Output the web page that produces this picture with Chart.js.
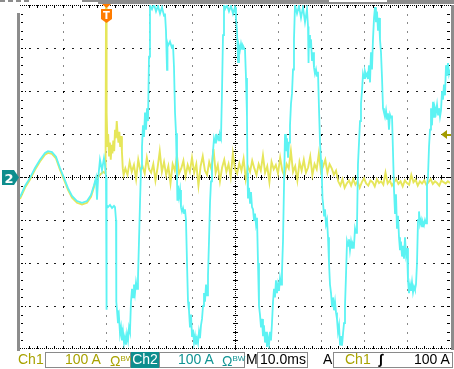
<!DOCTYPE html>
<html>
<head>
<meta charset="utf-8">
<script src="https://cdn.jsdelivr.net/npm/chart.js"></script>
<style>
  html, body { margin: 0; padding: 0; background: #fff; }
  #wrap { position: relative; width: 454px; height: 369px; overflow: hidden; }
  #scope { position: absolute; left: 0; top: 0; }
  #status { position: absolute; left: 0; top: 351px; width: 454px; height: 18px; }
  #status span { position: absolute; top: 0; font: 14px "Liberation Sans", Arial, sans-serif; line-height: 16px; white-space: nowrap; color: #000; }
  #status .box { top: 1px; height: 14px; border: 1px solid #8a8a8a; }
  #status .c1 { color: #a8a200; }
  #status .c2 { color: #0f9494; }
  #status .tag { top: 1px; height: 16px; background: #0e8e8e; color: #fff; text-align: center; line-height: 15px; }
  #status small { font-size: 8px; vertical-align: 5px; }
</style>
</head>
<body>
<div id="wrap">
  <canvas id="scope" width="454" height="369"></canvas>
  <div id="status">
    <span class="c1" style="left:18px">Ch1</span>
    <span class="box" style="left:45px;width:84px"></span>
    <span class="c1" style="left:65px">100 A</span>
    <span class="c1" style="left:110px">Ω<small>BW</small></span>
    <span class="tag" style="left:131px;width:28px">Ch2</span>
    <span class="box" style="left:159px;width:84px"></span>
    <span class="c2" style="left:178px">100 A</span>
    <span class="c2" style="left:222px">Ω<small>BW</small></span>
    <span style="left:246px">M</span>
    <span class="box" style="left:257px;width:49px"></span>
    <span style="left:260px">10.0ms</span>
    <span style="left:323px">A</span>
    <span class="box" style="left:333px;width:118px"></span>
    <span class="c1" style="left:345px">Ch1</span>
    <span style="left:379px;font-style:italic;font-weight:bold">∫</span>
    <span style="left:414px">100 A</span>
  </div>
</div>
<script>
// ==============================
// Settings
// ==============================
const timeRange = [0, 100];      // ms, 10 ms/div
const ampRange = [-400, 400];    // A, 100 A/div
const triggerTime = 20;          // ms
const triggerLevel = 100;        // A
const ch1Noise0 = 24.5;          // ms, first noise sample
const ch1Step = 0.5;             // ms between noise samples

// Ch2 (cyan) readings: [ms, A]
const ch2Samples = [
  [0,-47],[1.16,-21],[2.33,-2],[3.49,21],[4.65,40],[5.81,56],[6.51,60],[7.44,58],[8.37,47],[9.3,21],
  [10.23,-2],[11.16,-26],[12.09,-44],[13.26,-56],[14.42,-60],[15.58,-56],[16.51,-42],[17.21,-19],[17.67,-2],[17.91,-53],
  [18.14,-7],[18.6,40],[19.07,16],[19.53,44],[19.77,28],[20.0,0],[20.05,-309],[20.12,-60],[20.23,-65],[20.47,-70],
  [20.93,-65],[21.4,-72],[21.86,-67],[22.09,-70],[22.33,-100],[22.4,-290],[22.56,-310],[22.79,-340],[23.02,-325],[23.26,-365],
  [23.49,-350],[23.72,-380],[23.95,-360],[24.19,-386],[24.42,-372],[24.65,-390],[24.88,-365],[25.12,-380],[25.35,-350],[25.58,-360],
  [25.81,-290],[26.05,-260],[26.28,-280],[26.51,-250],[26.74,-270],[26.98,-245],[27.21,-260],[27.44,-235],[27.67,-150],[27.91,-60],
  [28.14,20],[28.37,70],[28.6,120],[28.84,93],[29.07,150],[29.3,110],[29.53,160],[29.77,130],[30.0,280],[30.23,400],
  [30.7,390],[31.16,402],[31.63,385],[32.09,398],[32.56,380],[33.02,395],[33.49,375],[33.72,380],[33.95,340],[34.19,249],
  [34.3,310],[34.42,305],[34.88,315],[35.35,300],[35.58,308],[35.81,256],[36.05,150],[36.28,102],[36.51,0],[36.6,-53],
  [36.74,-20],[36.98,-45],[37.21,-30],[37.44,-70],[37.67,-80],[37.91,-72],[38.14,-84],[38.37,-75],[38.6,-100],[38.84,-200],
  [39.07,-290],[39.3,-310],[39.53,-350],[39.77,-320],[40.0,-370],[40.23,-355],[40.47,-385],[40.7,-370],[40.93,-390],[41.16,-375],
  [41.4,-386],[41.63,-360],[41.86,-375],[42.09,-345],[42.33,-330],[42.56,-300],[42.79,-270],[43.02,-290],[43.26,-250],[43.49,-275],
  [43.72,-230],[43.95,-150],[44.19,-60],[44.42,-10],[44.65,20],[44.88,60],[45.12,90],[45.35,80],[45.58,100],[45.81,88],
  [46.05,95],[46.28,85],[46.51,98],[46.74,90],[46.98,200],[47.21,330],[47.44,400],[47.67,390],[48.14,400],[48.6,385],
  [49.07,398],[49.53,380],[50.0,395],[50.23,370],[50.47,340],[50.7,267],[50.93,305],[51.16,295],[51.4,310],[51.63,298],
  [51.86,305],[52.09,300],[52.33,295],[52.56,230],[52.79,140],[52.9,10],[53.02,-50],[53.26,-25],[53.49,-60],[53.72,-35],
  [53.95,-70],[54.19,-75],[54.42,-100],[54.65,-85],[54.88,-110],[55.12,-95],[55.35,-200],[55.58,-300],[55.81,-320],[56.05,-350],
  [56.28,-330],[56.51,-370],[56.74,-345],[56.98,-385],[57.21,-360],[57.44,-395],[57.67,-375],[57.91,-390],[58.14,-360],[58.37,-380],
  [58.6,-340],[58.84,-290],[59.07,-260],[59.3,-280],[59.53,-240],[59.77,-270],[60.0,-250],[60.23,-265],[60.47,-235],[60.7,-250],
  [60.93,-220],[61.16,-150],[61.4,-20],[61.63,100],[61.86,60],[62.09,90],[62.33,45],[62.56,80],[62.79,120],[63.02,170],
  [63.26,195],[63.49,250],[63.72,320],[63.95,400],[64.42,380],[64.88,398],[65.35,370],[65.81,395],[66.28,360],[66.74,390],
  [66.98,350],[67.1,265],[67.21,330],[67.44,300],[67.67,320],[67.91,270],[68.14,290],[68.37,255],[68.6,240],[68.84,250],
  [69.07,235],[69.3,245],[69.53,160],[69.77,80],[70.0,40],[70.23,-10],[70.35,-50],[70.47,-60],[70.7,-90],[70.93,-75],
  [71.16,-110],[71.4,-100],[71.63,-140],[71.86,-200],[72.09,-250],[72.33,-270],[72.56,-300],[72.79,-280],[73.02,-310],[73.26,-290],
  [73.49,-315],[73.72,-330],[73.95,-360],[74.19,-345],[74.42,-390],[74.65,-370],[74.88,-392],[75.12,-365],[75.35,-340],[75.58,-300],
  [75.81,-230],[76.05,-150],[76.28,-160],[76.51,-145],[76.74,-170],[76.98,-150],[77.21,-165],[77.44,-155],[77.67,-160],[77.91,-120],
  [78.14,-130],[78.37,-115],[78.6,30],[78.84,80],[79.07,130],[79.3,170],[79.53,200],[79.77,240],[80.0,230],[80.23,245],
  [80.47,235],[80.7,240],[80.93,228],[81.16,260],[81.4,220],[81.63,290],[81.86,250],[82.09,320],[82.33,370],[82.56,395],
  [82.79,360],[83.02,385],[83.26,340],[83.49,370],[83.72,320],[83.95,290],[84.19,230],[84.42,160],[84.65,150],[84.88,140],
  [85.12,155],[85.35,135],[85.58,148],[85.81,110],[86.05,145],[86.28,138],[86.51,143],[86.74,60],[86.98,-30],[87.21,-84],
  [87.44,-40],[87.67,-120],[87.91,-90],[88.14,-140],[88.37,-170],[88.6,-150],[88.84,-185],[89.07,-160],[89.3,-190],[89.53,-140],
  [89.77,-180],[90.0,-165],[90.23,-240],[90.47,-270],[90.7,-250],[90.93,-265],[91.16,-245],[91.4,-268],[91.63,-255],[91.86,-262],
  [92.09,-250],[92.33,-200],[92.56,-100],[92.79,-80],[93.02,-110],[93.26,-100],[93.49,-115],[93.72,-105],[93.95,-112],[94.19,-100],
  [94.42,-108],[94.65,-20],[94.88,0],[95.12,70],[95.35,110],[95.58,160],[95.81,120],[96.05,175],[96.28,140],[96.51,160],
  [96.74,150],[96.98,168],[97.21,145],[97.44,160],[97.67,140],[97.91,155],[98.14,200],[98.37,180],[98.6,215],[98.84,190],
  [99.07,260],[99.3,235],[99.53,265],[99.77,240],[100,250]
];

// Ch1 (yellow) readings up to the end of the trigger burst: [ms, A]
const ch1Burst = [
  [0,-51],[1.16,-25],[2.33,-6],[3.49,17],[4.65,36],[5.81,52],[6.51,56],[7.44,54],[8.37,43],[9.3,17],
  [10.23,-6],[11.16,-30],[12.09,-48],[13.26,-60],[14.42,-64],[15.58,-60],[16.51,-46],[17.21,-23],[17.67,-6],[18.6,5],
  [19.3,12],[19.9,8],[20.0,400],[20.08,130],[20.2,150],[20.35,70],[20.5,100],[20.7,50],[20.9,80],[21.1,40],
  [21.3,75],[21.5,55],[21.7,85],[21.9,60],[22.1,110],[22.3,90],[22.5,130],[22.7,100],[22.9,80],[23.1,105],
  [23.3,70],[23.5,95],[23.7,60],[23.9,20],[24.1,5]
];

// Ch1 noise after the burst, one value every ch1Step ms (A)
const ch1Noise = [
  20, 5, 35, 12, 28, -5, 40, 15, 25, 8, 45, 18, 10, 30, -8, 22, 60, 12, 35, 5, 25, -15, 30, 15, 50, 8, 20, 38, 2, 28, 12, 45,
  10, 30, -20, 25, 48, 15, 5, 35, 18, 65, 10, 28, -10, 22, 40, 12, 30, 0, 55, 18, 8, 32, 15, 42, -5, 25, 12, 38, 20, 5,
  30, 15, 50, 10, 25, -12, 35, 18, 28, 8, 45, 15, 2, 30, 20, 60, 12, 25, -8, 35, 15, 40, 10, 22, 48, 5, 30, 18, 55, 12, 25, 40, 10, 30,
  20, 5, 15, -10, -20, -5, -25,
  -15, -8, -20, -5, -18, -10, -25, -12, -3, -15, -20, -8, -12, -22, -5, -14, -10, -18, 10, -15, -8, -20, -12, -5, -16,
  -10, -22, -8, -14, -18, 5, -12, -6, -20, -10, -15, -8, -18, -12, -5, -16, -10, -14, -20, -8, -12, -15, -10, -14
];

const ch2Color = '#5cf3f3';
const ch1Color = '#e6e65a';

// ==============================
// Graticule + frame
// ==============================
const graticule = {
  id: 'graticule',
  beforeDatasetsDraw(chart) {
    const { ctx, chartArea: a, scales: { x, y } } = chart;
    const L = Math.round(a.left), R = Math.round(a.right), T = Math.round(a.top), B = Math.round(a.bottom);
    const px = i => Math.round(x.getPixelForValue(timeRange[0] + i * (timeRange[1] - timeRange[0]) / 50));
    const py = j => Math.round(y.getPixelForValue(ampRange[1] - j * (ampRange[1] - ampRange[0]) / 40));
    ctx.save();

    // gray frame bars
    ctx.fillStyle = '#8c8c8c';
    ctx.fillRect(L - 3, T + 8, 3, B - T - 6);
    ctx.fillRect(R + 1, T, 3, B - T + 1);
    ctx.fillRect(98, 0, chart.width - 98, 4);
    ctx.fillRect(82, 0, 16, 2);
    for (let i = 0; i < 4; i++) ctx.fillRect(i * 8, 0, 5, 2);
    ctx.fillStyle = '#fff';
    ctx.fillRect(329, 0, 58, 2);

    // major lines (dotted)
    for (let j = 5; j < 40; j += 5) {
      if (j === 20) continue;
      const Y = py(j);
      for (let i = 1; i < 50; i++) {
        ctx.fillStyle = i % 5 === 0 ? '#000' : '#222';
        ctx.fillRect(px(i), Y, 2, 1);
      }
    }
    for (let i = 5; i < 50; i += 5) {
      if (i === 25) continue;
      const X = px(i);
      for (let j = 1; j < 40; j++) {
        ctx.fillStyle = j % 5 === 0 ? '#000' : '#888';
        ctx.fillRect(X, py(j), 1, 2);
      }
    }

    // centre cross + edges, dense dots
    ctx.fillStyle = '#000';
    const Yc = py(20), Xc = px(25);
    for (let X = L; X <= R; X += 2) { ctx.fillRect(X, Yc, 1, 1); ctx.fillRect(X, T, 1, 1); ctx.fillRect(X, B - 1, 1, 1); }
    for (let Y = T; Y <= B; Y += 2) ctx.fillRect(Xc, Y, 1, 1);
    // minor ticks
    for (let i = 1; i < 50; i++) {
      const X = px(i);
      ctx.fillRect(X, Yc - 2, 1, 5);
      ctx.fillRect(X, T, 1, 3);
      ctx.fillRect(X, B - 3, 1, 3);
    }
    for (let j = 1; j < 40; j++) {
      const Y = py(j);
      ctx.fillRect(Xc - 2, Y, 5, 1);
      ctx.fillRect(L + 1, Y, 2, 1);
      ctx.fillRect(R - 3, Y, 3, 1);
      if (j % 5 === 0) { ctx.fillRect(L + 5, Y, 1, 1); ctx.fillRect(L + 9, Y, 1, 1); ctx.fillRect(R - 7, Y, 1, 1); }
    }
    ctx.restore();
  },
  afterDatasetsDraw(chart) {
    const { ctx, chartArea: a, scales: { x, y } } = chart;
    ctx.save();

    // trigger position marker
    const tx = Math.round(x.getPixelForValue(triggerTime));
    const T = Math.round(a.top);
    ctx.fillStyle = '#ff7c00';
    ctx.beginPath();
    ctx.moveTo(tx - 4, T - 1); ctx.lineTo(tx + 5, T - 1); ctx.lineTo(tx + 0.5, T + 3);
    ctx.closePath(); ctx.fill();
    ctx.beginPath();
    ctx.moveTo(tx - 5, T + 4); ctx.lineTo(tx + 6, T + 4); ctx.lineTo(tx + 6, T + 14);
    ctx.lineTo(tx + 0.5, T + 18); ctx.lineTo(tx - 5, T + 14);
    ctx.closePath(); ctx.fill();
    ctx.fillStyle = '#fff';
    ctx.font = 'bold 10px "DejaVu Sans"';
    ctx.textAlign = 'center';
    ctx.textBaseline = 'alphabetic';
    ctx.fillText('T', tx + 0.5, T + 14);

    // ch2 ground marker
    const gy = Math.round(y.getPixelForValue(0));
    ctx.fillStyle = '#0e8e8e';
    ctx.beginPath();
    ctx.moveTo(2, gy - 7); ctx.lineTo(14, gy - 7); ctx.lineTo(19, gy + 0.5);
    ctx.lineTo(14, gy + 8); ctx.lineTo(2, gy + 8);
    ctx.closePath(); ctx.fill();
    ctx.fillStyle = '#fff';
    ctx.font = 'bold 13px "DejaVu Sans"';
    ctx.fillText('2', 9, gy + 6);

    // trigger level marker
    const ly = Math.round(y.getPixelForValue(triggerLevel));
    const rx = Math.round(a.right);
    ctx.fillStyle = '#a49c00';
    ctx.beginPath();
    ctx.moveTo(rx - 9, ly + 0.5); ctx.lineTo(rx - 3, ly - 4); ctx.lineTo(rx - 3, ly + 5);
    ctx.closePath(); ctx.fill();
    ctx.fillRect(rx - 3, ly, 4, 2);
    ctx.restore();
  }
};

// ==============================
// Chart
// ==============================
const ch1Points = ch1Burst.map(([t, v]) => ({ x: t, y: v }))
  .concat(ch1Noise.map((v, i) => ({ x: ch1Noise0 + i * ch1Step, y: v })));
const ch2Points = ch2Samples.map(([t, v]) => ({ x: t, y: v }));

new Chart(document.getElementById('scope').getContext('2d'), {
  type: 'line',
  data: {
    datasets: [
      { label: 'Ch1', data: ch1Points, borderColor: ch1Color, borderWidth: 1.9, pointRadius: 0, tension: 0, order: 1 },
      { label: 'Ch2', data: ch2Points, borderColor: ch2Color, borderWidth: 1.8, pointRadius: 0, tension: 0, order: 0 }
    ]
  },
  options: {
    responsive: false,
    animation: false,
    devicePixelRatio: 1,
    layout: { padding: { left: 20, right: 4, top: 5, bottom: 20 } },
    plugins: { legend: { display: false }, tooltip: { enabled: false } },
    scales: {
      x: { type: 'linear', min: timeRange[0], max: timeRange[1], display: false },
      y: { type: 'linear', min: ampRange[0], max: ampRange[1], display: false }
    }
  },
  plugins: [graticule]
});
</script>
</body>
</html>
